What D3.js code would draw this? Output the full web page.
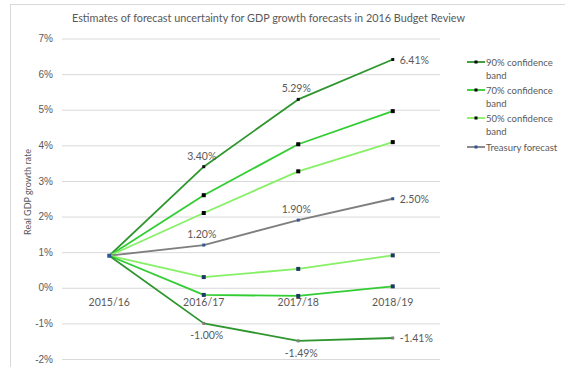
<!DOCTYPE html>
<html>
<head>
<meta charset="utf-8">
<script src="https://cdn.jsdelivr.net/npm/d3@7"></script>
<style>
  html, body { margin: 0; padding: 0; background: #fff; }
  svg { display: block; font-family: Lato, "Open Sans", sans-serif; }
</style>
</head>
<body>
<svg id="chart" width="565" height="367"></svg>
<script>
// Forecast years and growth rates (%) for each band edge
const categories = ["2015/16", "2016/17", "2017/18", "2018/19"];
const treasury = [0.9, 1.20, 1.90, 2.50];
const upper90 = [0.9, 3.40, 5.29, 6.41];
const lower90 = [0.9, -1.00, -1.49, -1.41];
const upper70 = [0.9, 2.60, 4.03, 4.96];
const lower70 = [0.9, -0.20, -0.23, 0.04];
const upper50 = [0.9, 2.10, 3.27, 4.09];
const lower50 = [0.9, 0.30, 0.53, 0.91];
const yTicks = [-2, -1, 0, 1, 2, 3, 4, 5, 6, 7];

const svg = d3.select("#chart");
const textColor = "#595959";

// chart frame
svg.append("rect")
  .attr("x", 10.5).attr("y", 4.5)
  .attr("width", 600).attr("height", 400)
  .attr("fill", "none").attr("stroke", "#d9d9d9");

const x = d3.scaleBand().domain(categories).range([62, 440]).padding(0);
const cx = c => x(c) + x.bandwidth() / 2;
const y = d3.scaleLinear().domain([-2, 7]).range([359, 38.5]);

// gridlines + value labels
const yAxis = d3.axisLeft(y)
  .tickValues(yTicks)
  .tickSize(-(440 - 62))
  .tickPadding(9)
  .tickFormat(d => d + "%");
const gy = svg.append("g").attr("transform", "translate(62,0)").call(yAxis);
gy.select(".domain").remove();
gy.selectAll(".tick line").attr("stroke", "#d9d9d9").attr("stroke-width", 1);
gy.selectAll(".tick text").attr("fill", textColor).attr("font-size", 10);

// category labels beneath the zero line
svg.append("g").selectAll("text")
  .data(categories).join("text")
  .attr("x", d => cx(d)).attr("y", y(0) + 18)
  .attr("text-anchor", "middle")
  .attr("fill", textColor).attr("font-size", 10.5)
  .text(d => d);

// title and axis title
svg.append("text")
  .attr("x", 268.5).attr("y", 22)
  .attr("text-anchor", "middle")
  .attr("fill", textColor).attr("font-size", 12)
  .attr("textLength", 393).attr("lengthAdjust", "spacingAndGlyphs")
  .text("Estimates of forecast uncertainty for GDP growth forecasts in 2016 Budget Review");

svg.append("text")
  .attr("transform", "translate(31,192) rotate(-90)")
  .attr("text-anchor", "middle")
  .attr("fill", textColor).attr("font-size", 9)
  .text("Real GDP growth rate");

const c90 = "#2e962e", c70 = "#32cd32", c50 = "#86f066", cT = "#7f7f7f";

const series = [
  { vals: upper90, color: c90, marker: "#111", ms: 3 },
  { vals: upper70, color: c70, marker: "#000", ms: 4 },
  { vals: upper50, color: c50, marker: "#000", ms: 4 },
  { vals: treasury, color: cT, marker: "#2f5597", ms: 3 },
  { vals: lower50, color: c50, marker: "#1f3864", ms: 4 },
  { vals: lower70, color: c70, marker: "#1f3864", ms: 4 },
  { vals: lower90, color: c90, marker: "#7f7f7f", ms: 3 }
];

const line = d3.line().x((d, i) => cx(categories[i])).y(d => y(d));

series.forEach(s => {
  svg.append("path")
    .datum(s.vals)
    .attr("d", line)
    .attr("fill", "none")
    .attr("stroke", s.color)
    .attr("stroke-width", 1.8)
    .attr("stroke-linejoin", "round");
});
series.forEach(s => {
  svg.append("g").selectAll("rect")
    .data(s.vals.slice(1)).join("rect")
    .attr("x", (d, i) => cx(categories[i + 1]) - s.ms / 2)
    .attr("y", d => y(d) - s.ms / 2)
    .attr("width", s.ms).attr("height", s.ms)
    .attr("fill", s.marker);
});
// shared starting point
svg.append("rect")
  .attr("x", cx(categories[0]) - 2).attr("y", y(treasury[0]) - 2)
  .attr("width", 4).attr("height", 4)
  .attr("fill", "#2f5597");

// data labels
function labels(vals, pos) {
  vals.forEach((v, i) => {
    if (i === 0) return;
    const px = cx(categories[i]), py = y(v);
    const t = svg.append("text")
      .attr("fill", textColor).attr("font-size", 10.5)
      .text(v.toFixed(2) + "%");
    if (i === vals.length - 1) {
      t.attr("x", px + 7).attr("y", py + 4).attr("text-anchor", "start");
    } else if (pos === "above") {
      t.attr("x", px - 2).attr("y", py - 7).attr("text-anchor", "middle");
    } else {
      t.attr("x", px + 3).attr("y", py + 16).attr("text-anchor", "middle");
    }
  });
}
labels(upper90, "above");
labels(treasury, "above");
labels(lower90, "below");

// legend
const legend = [
  { name: ["90% confidence", "band"], color: c90, marker: "#000", y: 62 },
  { name: ["70% confidence", "band"], color: c70, marker: "#000", y: 90 },
  { name: ["50% confidence", "band"], color: c50, marker: "#000", y: 118 },
  { name: ["Treasury forecast"], color: cT, marker: "#2f5597", y: 147 }
];
const lg = svg.append("g");
legend.forEach(item => {
  lg.append("line")
    .attr("x1", 467).attr("x2", 485)
    .attr("y1", item.y).attr("y2", item.y)
    .attr("stroke", item.color).attr("stroke-width", 1.8);
  lg.append("rect")
    .attr("x", 474.5).attr("y", item.y - 1.5)
    .attr("width", 3).attr("height", 3)
    .attr("fill", item.marker);
  item.name.forEach((n, j) => {
    lg.append("text")
      .attr("x", 486).attr("y", item.y + 3.5 + j * 13)
      .attr("fill", textColor).attr("font-size", 9.5)
      .text(n);
  });
});
</script>
</body>
</html>
